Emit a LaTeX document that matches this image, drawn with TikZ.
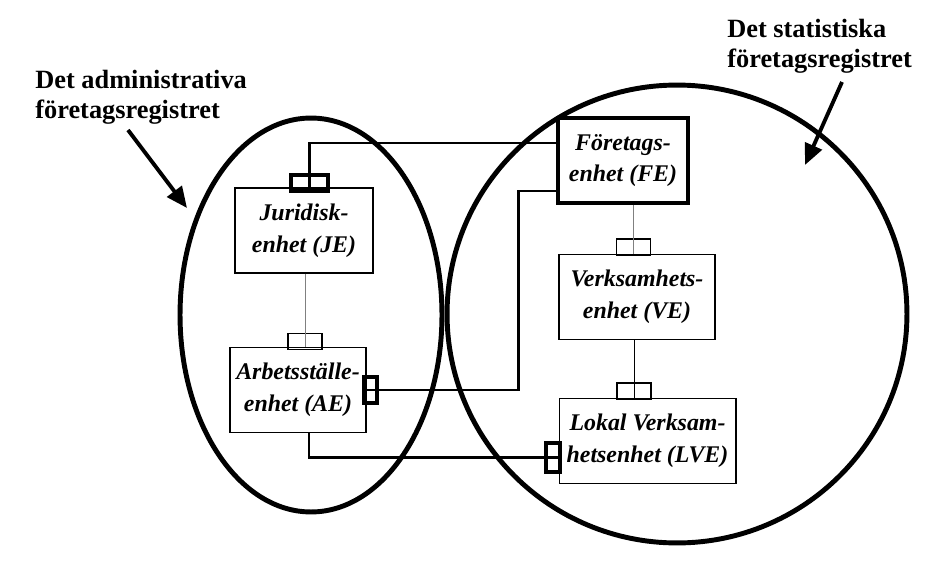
\documentclass[tikz,border=0pt]{standalone}
\usepackage{fontspec}
\setmainfont{Liberation Serif}
\usetikzlibrary{arrows.meta}
\begin{document}
\begin{tikzpicture}[x=0.02cm,y=-0.02cm,
    unit/.style={draw,line width=0.6pt,inner sep=0pt,minimum width=#1,minimum height=1.7cm,
      align=center,font=\bfseries\itshape\fontsize{13.6}{18}\selectfont},
    plug/.style={draw,line width=0.6pt,inner sep=0pt,minimum width=0.68cm,minimum height=0.32cm},
    boldplug/.style={plug,line width=2pt},
    link/.style={line width=1.7pt},
    thinlink/.style={line width=0.5pt},
    ring/.style={line width=2.8pt},
    regname/.style={inner sep=0pt,align=left,font=\bfseries\fontsize{15}{17}\selectfont},
    pointer/.style={line width=2.2pt,-{Triangle[length=0.42cm,width=0.36cm]}}]
    \useasboundingbox (0,0) rectangle (939,564);
    % the two registers
    \draw[ring] (311,315) ellipse [x radius=2.62cm,y radius=3.94cm];
    \draw[ring] (677,314) ellipse [x radius=4.6cm,y radius=4.58cm];
    \node[regname,anchor=north west] (adm) at (35,70) {Det administrativa\\företagsregistret};
    \node[regname,anchor=north west] (stat) at (727,19) {Det statistiska\\företagsregistret};
    \coordinate (admfrom) at (128,130);
    \coordinate (admto) at (187,208);
    \coordinate (statfrom) at (842,82);
    \coordinate (statto) at (805,165);
    \draw[pointer] (admfrom) -- (admto);
    \draw[pointer] (statfrom) -- (statto);
    % units
    \node[unit=2.76cm] (je) at (304,230.5) {Juridisk-\\enhet (JE)};
    \node[unit=2.72cm] (ae) at (298,390) {Arbetsställe-\\enhet (AE)};
    \node[unit=2.6cm,line width=2.2pt] (fe) at (623,160.5) {Företags-\\enhet (FE)};
    \node[unit=3.12cm] (ve) at (637,297) {Verksamhets-\\enhet (VE)};
    \node[unit=3.54cm] (lve) at (647.5,441) {Lokal Verksam-\\hetsenhet (LVE)};
    % plugs
    \node[plug] (aet) at (305,341.5) {};
    \node[plug] (vet) at (633.5,247) {};
    \node[plug] (lvet) at (634,391) {};
    \node[boldplug,minimum width=0.74cm] (jeb) at (309.5,183) {};
    \node[boldplug,minimum width=0.26cm,minimum height=0.52cm] (aer) at (370.5,390) {};
    \node[boldplug,minimum width=0.28cm,minimum height=0.58cm] (lvel) at (553,457.5) {};
    % links
    \coordinate (feup) at ([yshift=0.35cm]fe.west);
    \coordinate (fedown) at ([yshift=-0.61cm]fe.west);
    \coordinate (bend) at (518,191);
    \coordinate (aedown) at (309,457.5);
    \draw[link] (jeb.center |- je.north) |- (feup);
    \draw[link] (ae.east) -- (ae.east -| bend) -- (bend |- fedown) -- (fedown);
    \draw[link] (ae.south -| aedown) |- (lve.west |- lvel.center);
    \draw[thinlink,gray] (aet.center |- je.south) -- (aet.center |- ae.north);
    \draw[thinlink,gray] (vet.center |- fe.south) -- (vet.center |- ve.north);
    \draw[thinlink] (lvet.center |- ve.south) -- (lvet.center |- lve.north);
\end{tikzpicture}
\end{document}
